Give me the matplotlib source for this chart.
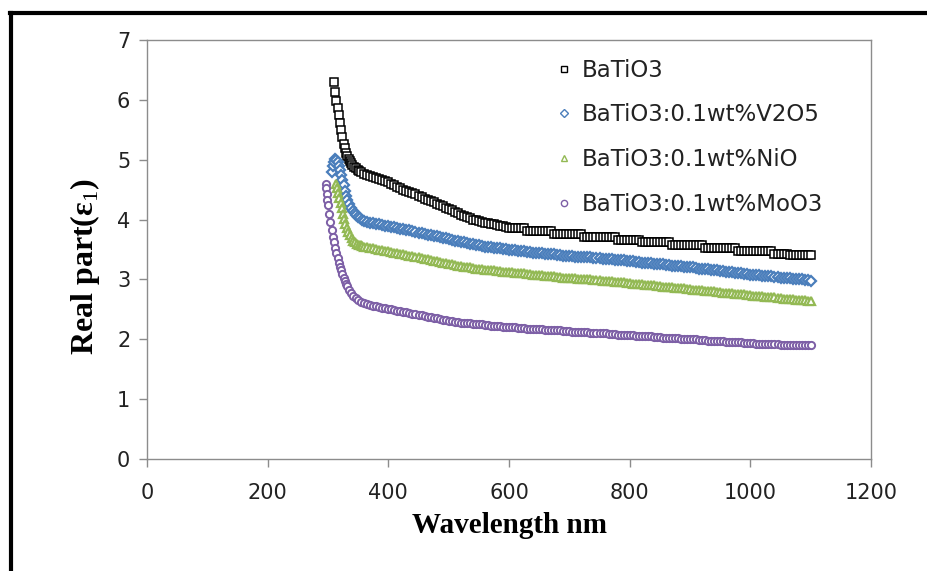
import matplotlib
matplotlib.use("Agg")
import matplotlib.pyplot as plt
from matplotlib.lines import Line2D

# wavelength grid shared by the flat part of every curve (nm)
tail_wl = list(range(360, 1101, 5))

# BaTiO3
black_head_wl = [310, 312, 314, 316, 318, 320, 322, 324, 326, 328, 330, 332, 334,
                 336, 338, 340, 343, 346, 349, 352, 355]
black_head = [6.30, 6.14, 5.98, 5.86, 5.75, 5.62, 5.50, 5.38, 5.27, 5.19, 5.12, 5.06,
              5.02, 4.98, 4.94, 4.91, 4.88, 4.86, 4.83, 4.81, 4.79]
black_tail = [4.77, 4.75, 4.73, 4.71, 4.70, 4.68, 4.66, 4.64, 4.62, 4.60,
              4.57, 4.55, 4.52, 4.50, 4.48, 4.46, 4.44, 4.42, 4.40, 4.38,
              4.35, 4.33, 4.31, 4.29, 4.26, 4.24, 4.22, 4.20, 4.18, 4.16,
              4.13, 4.11, 4.08, 4.06, 4.04, 4.02, 4.00, 3.99, 3.97, 3.96,
              3.95, 3.94, 3.93, 3.92, 3.91, 3.90, 3.89, 3.88, 3.86, 3.86,
              3.86, 3.86, 3.86, 3.86, 3.81, 3.81, 3.81, 3.81, 3.81, 3.81,
              3.81, 3.81, 3.81, 3.76, 3.76, 3.76, 3.76, 3.76, 3.76, 3.76,
              3.76, 3.76, 3.76, 3.71, 3.71, 3.71, 3.71, 3.71, 3.71, 3.71,
              3.71, 3.71, 3.71, 3.71, 3.66, 3.66, 3.66, 3.66, 3.66, 3.66,
              3.66, 3.66, 3.62, 3.62, 3.62, 3.62, 3.62, 3.62, 3.62, 3.62,
              3.62, 3.62, 3.57, 3.57, 3.57, 3.57, 3.57, 3.57, 3.57, 3.57,
              3.57, 3.57, 3.57, 3.52, 3.52, 3.52, 3.52, 3.52, 3.52, 3.52,
              3.52, 3.52, 3.52, 3.52, 3.47, 3.47, 3.47, 3.47, 3.47, 3.47,
              3.47, 3.47, 3.47, 3.47, 3.47, 3.47, 3.42, 3.42, 3.42, 3.42,
              3.42, 3.41, 3.41, 3.41, 3.41, 3.41, 3.41, 3.41, 3.41]

# BaTiO3:0.1wt%V2O5
blue_head_wl = [306, 308, 310, 312, 314, 316, 318, 320, 322, 324, 326, 328, 330, 332,
                335, 338, 341, 344, 347, 350, 353, 356]
blue_head = [4.80, 4.90, 4.97, 5.01, 5.00, 4.96, 4.90, 4.83, 4.75, 4.66, 4.57, 4.48,
             4.40, 4.33, 4.26, 4.20, 4.15, 4.11, 4.08, 4.05, 4.02, 4.00]
blue_tail = [3.98, 3.96, 3.95, 3.94, 3.93, 3.92, 3.91, 3.90, 3.89, 3.88,
             3.87, 3.86, 3.85, 3.84, 3.83, 3.82, 3.81, 3.80, 3.78, 3.77,
             3.76, 3.75, 3.74, 3.73, 3.72, 3.71, 3.70, 3.69, 3.67, 3.66,
             3.65, 3.64, 3.63, 3.62, 3.61, 3.60, 3.59, 3.58, 3.57, 3.56,
             3.55, 3.54, 3.54, 3.53, 3.52, 3.52, 3.51, 3.51, 3.50, 3.50,
             3.49, 3.48, 3.48, 3.47, 3.46, 3.46, 3.45, 3.45, 3.44, 3.44,
             3.43, 3.43, 3.42, 3.42, 3.41, 3.41, 3.40, 3.40, 3.39, 3.39,
             3.38, 3.38, 3.38, 3.37, 3.37, 3.37, 3.36, 3.36, 3.36, 3.35,
             3.35, 3.34, 3.34, 3.33, 3.33, 3.32, 3.32, 3.31, 3.30, 3.30,
             3.29, 3.29, 3.28, 3.28, 3.27, 3.27, 3.26, 3.26, 3.25, 3.25,
             3.24, 3.24, 3.23, 3.23, 3.22, 3.22, 3.21, 3.21, 3.20, 3.20,
             3.19, 3.18, 3.18, 3.17, 3.17, 3.16, 3.15, 3.15, 3.14, 3.14,
             3.13, 3.12, 3.12, 3.11, 3.11, 3.10, 3.09, 3.09, 3.08, 3.08,
             3.07, 3.07, 3.06, 3.06, 3.05, 3.05, 3.04, 3.04, 3.03, 3.03,
             3.02, 3.02, 3.01, 3.01, 3.00, 3.00, 2.99, 2.99, 2.98]

# BaTiO3:0.1wt%NiO
green_head_wl = [313, 315, 317, 319, 321, 323, 325, 327, 329, 331, 333, 336, 339,
                 342, 345, 348, 351, 354, 357]
green_head = [4.60, 4.52, 4.44, 4.36, 4.28, 4.19, 4.10, 4.01, 3.93, 3.86, 3.80, 3.74,
              3.69, 3.65, 3.62, 3.60, 3.58, 3.57, 3.56]
green_tail = [3.55, 3.54, 3.53, 3.52, 3.51, 3.50, 3.49, 3.48, 3.47, 3.46,
              3.45, 3.44, 3.43, 3.42, 3.41, 3.40, 3.39, 3.38, 3.37, 3.36,
              3.35, 3.34, 3.32, 3.31, 3.30, 3.29, 3.28, 3.27, 3.26, 3.25,
              3.24, 3.23, 3.22, 3.21, 3.20, 3.20, 3.19, 3.18, 3.17, 3.17,
              3.16, 3.16, 3.15, 3.15, 3.14, 3.14, 3.13, 3.13, 3.12, 3.12,
              3.11, 3.11, 3.10, 3.10, 3.09, 3.09, 3.08, 3.08, 3.07, 3.07,
              3.06, 3.06, 3.05, 3.05, 3.04, 3.04, 3.03, 3.03, 3.03, 3.02,
              3.02, 3.01, 3.01, 3.01, 3.00, 3.00, 2.99, 2.99, 2.99, 2.98,
              2.98, 2.97, 2.97, 2.96, 2.96, 2.95, 2.95, 2.94, 2.94, 2.93,
              2.93, 2.92, 2.92, 2.91, 2.91, 2.90, 2.90, 2.89, 2.89, 2.88,
              2.88, 2.87, 2.87, 2.86, 2.86, 2.85, 2.85, 2.84, 2.84, 2.83,
              2.83, 2.82, 2.82, 2.81, 2.81, 2.80, 2.80, 2.79, 2.79, 2.78,
              2.78, 2.77, 2.77, 2.76, 2.76, 2.75, 2.75, 2.74, 2.74, 2.73,
              2.73, 2.72, 2.72, 2.71, 2.71, 2.70, 2.70, 2.69, 2.69, 2.68,
              2.68, 2.67, 2.67, 2.66, 2.66, 2.65, 2.65, 2.64, 2.64]

# BaTiO3:0.1wt%MoO3
purple_head_wl = [296, 297, 298, 299, 300, 302, 304, 306, 308, 310, 312, 314, 316,
                  318, 320, 322, 324, 326, 328, 330, 332, 335, 338, 342, 346, 350, 355]
purple_head = [4.60, 4.52, 4.42, 4.33, 4.24, 4.10, 3.96, 3.83, 3.71, 3.62, 3.53, 3.44,
               3.36, 3.28, 3.21, 3.15, 3.09, 3.03, 2.98, 2.93, 2.89, 2.83, 2.78, 2.73,
               2.69, 2.66, 2.63]
purple_tail = [2.60, 2.59, 2.57, 2.56, 2.55, 2.54, 2.53, 2.52, 2.51, 2.50,
               2.49, 2.48, 2.47, 2.46, 2.45, 2.44, 2.43, 2.42, 2.41, 2.40,
               2.39, 2.38, 2.37, 2.36, 2.35, 2.34, 2.33, 2.32, 2.31, 2.30,
               2.29, 2.29, 2.28, 2.28, 2.27, 2.27, 2.26, 2.26, 2.25, 2.25,
               2.24, 2.24, 2.23, 2.23, 2.22, 2.22, 2.21, 2.21, 2.20, 2.20,
               2.20, 2.19, 2.19, 2.19, 2.18, 2.18, 2.18, 2.17, 2.17, 2.17,
               2.16, 2.16, 2.16, 2.15, 2.15, 2.15, 2.14, 2.14, 2.14, 2.13,
               2.13, 2.13, 2.12, 2.12, 2.12, 2.11, 2.11, 2.11, 2.10, 2.10,
               2.10, 2.09, 2.09, 2.09, 2.08, 2.08, 2.08, 2.07, 2.07, 2.07,
               2.06, 2.06, 2.06, 2.05, 2.05, 2.05, 2.04, 2.04, 2.04, 2.03,
               2.03, 2.03, 2.02, 2.02, 2.02, 2.01, 2.01, 2.01, 2.00, 2.00,
               2.00, 1.99, 1.99, 1.99, 1.98, 1.98, 1.98, 1.97, 1.97, 1.97,
               1.96, 1.96, 1.96, 1.95, 1.95, 1.95, 1.94, 1.94, 1.94, 1.94,
               1.93, 1.93, 1.93, 1.93, 1.92, 1.92, 1.92, 1.92, 1.91, 1.91,
               1.91, 1.91, 1.91, 1.90, 1.90, 1.90, 1.90, 1.90, 1.90]

labels = ["BaTiO3", "BaTiO3:0.1wt%V2O5", "BaTiO3:0.1wt%NiO", "BaTiO3:0.1wt%MoO3"]
colors = ["#000000", "#4A7EBB", "#93B954", "#7D5FA6"]
markers = ["s", "D", "^", "o"]
msizes = [5.5, 5.2, 5.8, 5.2]
mews = [1.1, 1.6, 1.6, 1.4]

plt.rcParams["mathtext.fontset"] = "custom"
plt.rcParams["mathtext.rm"] = "Liberation Serif"

fig = plt.figure(figsize=(9.28, 5.71), dpi=100)
ax = fig.add_axes([0.1584, 0.1961, 0.7802, 0.7338])

series = [
    (black_head_wl + tail_wl, black_head + black_tail),
    (blue_head_wl + tail_wl, blue_head + blue_tail),
    (green_head_wl + tail_wl, green_head + green_tail),
    (purple_head_wl + tail_wl, purple_head + purple_tail),
]
for (x, y), c, m, ms, mw in zip(series, colors, markers, msizes, mews):
    ax.plot(x, y, linestyle="none", marker=m, ms=ms, mfc="white", mec=c, mew=mw)

ax.set_xlim(0, 1200)
ax.set_ylim(0, 7)
ax.set_xticks(range(0, 1201, 200))
ax.set_yticks(range(0, 8))
for s in ax.spines.values():
    s.set_color("#8c8c8c")
    s.set_linewidth(1.0)
ax.tick_params(direction="out", length=6, width=1, color="#8c8c8c",
               labelsize=15, labelcolor="#222222", pad=6)
for t in ax.get_xticklabels() + ax.get_yticklabels():
    t.set_family("DejaVu Sans")
ax.tick_params(axis="x", pad=11)

ax.set_xlabel("Wavelength nm", family="Liberation Serif", fontweight="bold",
              fontsize=21, labelpad=7)
ax.set_ylabel("Real part(ε$_1$)", family="Liberation Serif", fontweight="bold",
              fontsize=23)
ax.yaxis.set_label_coords(-0.062, 0.46)

handles = [Line2D([], [], linestyle="none", marker=m, ms=4.5, mfc="white", mec=c, mew=1.0)
           for c, m in zip(colors, markers)]
ax.legend(handles, labels, loc="upper left", bbox_to_anchor=(0.54, 1.005),
          frameon=False, prop={"family": "DejaVu Sans", "size": 16.5},
          labelspacing=0.95, handlelength=0.5, handletextpad=0.5,
          labelcolor="#222222")

# outer frame of the original picture (cut off at right and bottom)
fig.add_artist(plt.Line2D([0.012, 0.012], [0.0, 0.977], color="black", lw=3,
                          transform=fig.transFigure))
fig.add_artist(plt.Line2D([0.0105, 1.0], [0.977, 0.977], color="black", lw=3,
                          transform=fig.transFigure))

fig.savefig("out.png", dpi=100)
